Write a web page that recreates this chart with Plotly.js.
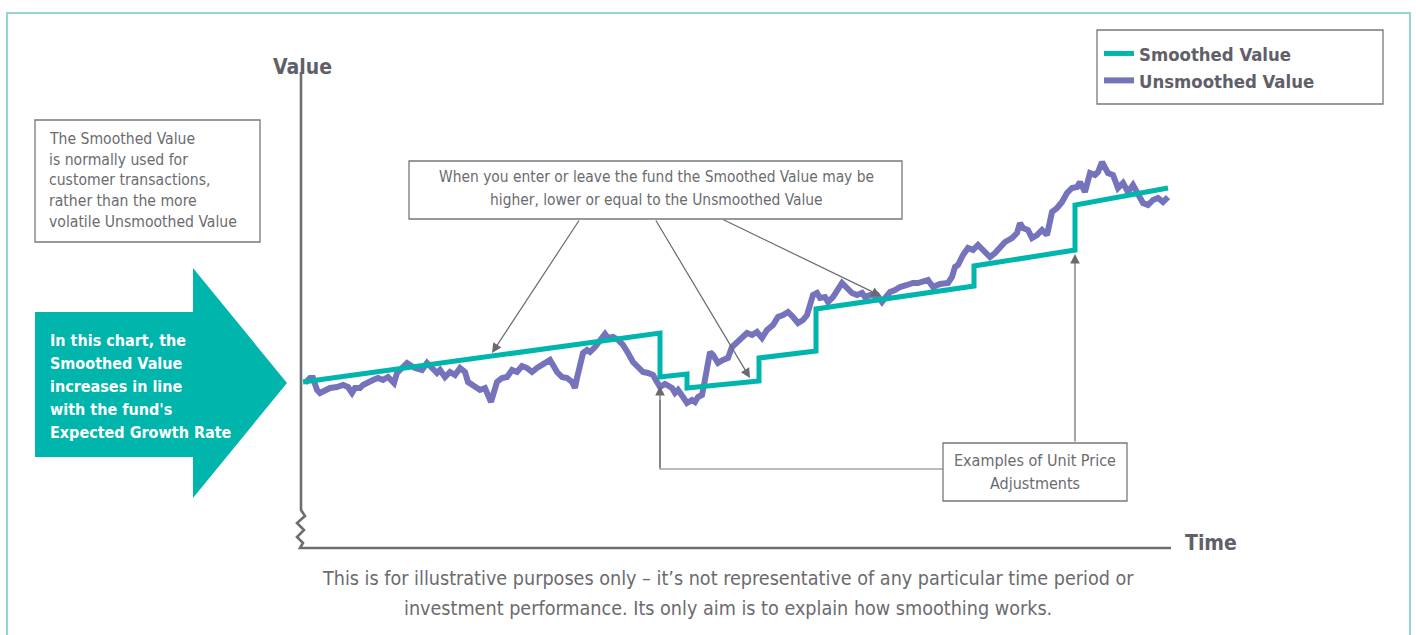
<!DOCTYPE html>
<html>
<head>
<meta charset="utf-8">
<script src="https://cdn.plot.ly/plotly-3.0.1.min.js"></script>
<style>html,body{margin:0;padding:0;background:#fff;}#chart{width:1416px;height:635px;}</style>
</head>
<body>
<div id="chart"></div>
<script>
// ---- Data (time in arbitrary steps, value in arbitrary units) ----
const timeSteps = [5,10,13,17,20,27,30,37,43,48,
  52,55,60,63,68,73,78,83,88,92,
  94,97,102,107,110,115,122,127,132,137,
  140,145,150,155,160,165,168,173,177,180,
  185,188,191,197,202,207,212,217,222,227,
  232,237,242,247,250,253,257,262,267,272,
  275,277,280,283,287,290,295,298,302,305,
  308,313,318,323,328,333,338,343,348,353,
  357,360,365,368,372,375,378,383,387,392,
  395,398,402,404,407,410,413,418,423,428,
  432,437,442,447,452,457,462,467,473,478,
  483,488,493,498,503,507,510,513,517,520,
  525,528,533,538,542,547,552,557,562,565,
  570,577,582,585,590,595,600,607,613,618,
  623,628,633,640,648,652,655,658,663,668,
  673,678,683,690,695,700,705,712,717,720,
  723,728,732,737,742,747,752,757,762,767,
  772,777,780,785,790,795,798,802,805,808,
  813,818,823,828,833,838,843,848,853,858,
  863,868];
const unsmoothedValue = [163,168,168,156,153,156,158,159,161,159,
  153,158,158,161,164,166,168,166,169,164,
  163,173,178,183,181,178,176,183,178,173,
  176,169,174,171,178,174,164,161,158,156,
  158,151,144,164,168,169,176,174,180,178,
  174,178,181,184,186,181,174,169,168,164,
  158,168,184,193,196,194,199,203,209,212,
  208,209,206,201,193,184,179,174,173,171,
  164,159,162,160,158,153,156,149,143,146,
  144,149,151,161,179,194,191,183,186,188,
  199,204,208,213,211,214,208,216,221,229,
  231,234,229,223,226,231,241,251,253,248,
  249,244,249,258,263,258,253,251,253,249,
  251,251,244,248,254,256,259,261,263,263,
  264,266,259,262,263,269,279,281,291,298,
  296,301,296,289,293,298,304,308,313,323,
  318,316,308,311,316,311,334,338,344,353,
  358,359,364,354,373,371,374,384,379,373,
  371,358,363,354,361,353,343,341,346,348,
  344,349];
const smoothedTime  = [3,360,360,387,387,459,459,516,516,674,674,775,775,868];
const smoothedValue = [164,213,169,172,158,165,188,195,237,260,280,296,341,358];
const seriesNames = ['Smoothed Value', 'Unsmoothed Value'];

// ---- Layout helpers (pixel -> paper / data) ----
const L = 300, R = 1170, T = 75, B = 546;
const PX = px => (px - L) / (R - L);
const PY = py => (B - py) / (B - T);
const DX = px => px - L;
const DY = py => B - py;

const FONT = "'DejaVu Sans Condensed', 'Liberation Sans Narrow', 'Arial Narrow', sans-serif";
const GREY = '#6b6b6f';
const AXIS = '#6d6e72';
const TEAL = '#00b5ac';
const PURPLE = '#7473bb';

const traces = [
  {x: timeSteps, y: unsmoothedValue, name: seriesNames[1], type: 'scatter', mode: 'lines',
   line: {color: PURPLE, width: 6}, hoverinfo: 'skip'},
  {x: smoothedTime, y: smoothedValue, name: seriesNames[0], type: 'scatter', mode: 'lines',
   line: {color: TEAL, width: 5}, hoverinfo: 'skip'}
];

function rect(x0, y0, x1, y1, line, fill, layer) {
  return {type: 'rect', xref: 'paper', yref: 'paper', x0: PX(x0), x1: PX(x1), y0: PY(y0), y1: PY(y1),
          line: line, fillcolor: fill || 'rgba(0,0,0,0)', layer: layer || 'below'};
}
function path(pts, line, fill) {
  const d = pts.map((p, i) => (i ? 'L' : 'M') + PX(p[0]) + ',' + PY(p[1])).join(' ') + (fill ? ' Z' : '');
  return {type: 'path', xref: 'paper', yref: 'paper', path: d, line: line, fillcolor: fill || 'rgba(0,0,0,0)', layer: 'below'};
}

const shapes = [
  rect(7, 13, 1410, 660, {color: '#93d6cf', width: 2}),
  rect(1097, 30, 1383, 104, {color: '#77787c', width: 1.3}, '#ffffff'),
  rect(35, 120, 260, 242, {color: '#77787c', width: 1.3}),
  path([[35,312],[193,312],[193,268],[287,383],[193,498],[193,457],[35,457]], {width: 0}, TEAL),
  rect(409, 161, 902, 219, {color: '#77787c', width: 1.3}),
  rect(943, 443, 1127, 501, {color: '#77787c', width: 1.3}),
  path([[943,469],[660,469],[660,400]], {color: '#77787c', width: 1.2}),
  path([[301,72],[301,510],[305,516],[297,523],[304,530],[297,537],[303,543],[300,548],[1171,548]],
       {color: AXIS, width: 2.6})
];

function arrow(hx, hy, tx, ty) {
  return {x: DX(hx), y: DY(hy), ax: DX(tx), ay: DY(ty), xref: 'x', yref: 'y', axref: 'x', ayref: 'y',
          text: '', showarrow: true, arrowhead: 2, arrowsize: 1.6, arrowwidth: 1.2, arrowcolor: '#6a6a6e', standoff: 0};
}
function textLines(lines, x, y0, step, size, opts) {
  opts = opts || {};
  return lines.map((t, i) => ({
    x: PX(x), y: PY(y0 + i * step), xref: 'paper', yref: 'paper', text: t, showarrow: false,
    xanchor: opts.xanchor || 'center', yanchor: 'middle', align: opts.xanchor === 'left' ? 'left' : 'center',
    font: {family: FONT, size: size, color: opts.color || GREY, weight: opts.weight || 'normal'}
  }));
}

const annotations = [
  arrow(492, 353, 580, 219),
  arrow(750, 378, 655, 219),
  arrow(881, 296, 722, 219),
  arrow(660, 386, 660, 469),
  arrow(1075, 254, 1075, 443),
  ...textLines(['The Smoothed Value', 'is normally used for', 'customer transactions,',
                'rather than the more', 'volatile Unsmoothed Value'], 47, 139, 20.7, 15.6, {xanchor: 'left'}),
  ...textLines(['In this chart, the', 'Smoothed Value', 'increases in line',
                'with the fund\'s', 'Expected Growth Rate'], 48, 340, 23, 16, {xanchor: 'left', color: '#ffffff', weight: 'bold'}),
  ...textLines(['When you enter or leave the fund the Smoothed Value may be',
                'higher, lower or equal to the Unsmoothed Value'], 656, 177, 23, 15.4),
  ...textLines(['Examples of Unit Price', 'Adjustments'], 1035, 460, 23, 16),
  ...textLines(['This is for illustrative purposes only \u2013 it\u2019s not representative of any particular time period or',
                'investment performance. Its only aim is to explain how smoothing works.'], 728, 578, 30, 19.6),
  ...textLines(['Value'], 302, 67, 0, 21, {color: '#5f6068', weight: 'bold'}),
  ...textLines(['Time'], 1211, 543, 0, 21, {color: '#5f6068', weight: 'bold'})
];

const layout = {
  width: 1416, height: 635,
  margin: {l: L, r: 1416 - R, t: T, b: 635 - B, pad: 0},
  paper_bgcolor: '#ffffff', plot_bgcolor: 'rgba(0,0,0,0)',
  xaxis: {range: [0, R - L], visible: false, fixedrange: true},
  yaxis: {range: [0, B - T], visible: false, fixedrange: true},
  showlegend: true,
  legend: {x: PX(1099), y: PY(35), xanchor: 'left', yanchor: 'top', traceorder: 'reversed',
           bgcolor: 'rgba(0,0,0,0)', borderwidth: 0, itemwidth: 30,
           font: {family: FONT, size: 18.4, color: '#5f6068', weight: 'bold'}},
  shapes: shapes,
  annotations: annotations,
  hovermode: false
};

Plotly.newPlot('chart', traces, layout, {displayModeBar: false, staticPlot: true});
</script>
</body>
</html>
